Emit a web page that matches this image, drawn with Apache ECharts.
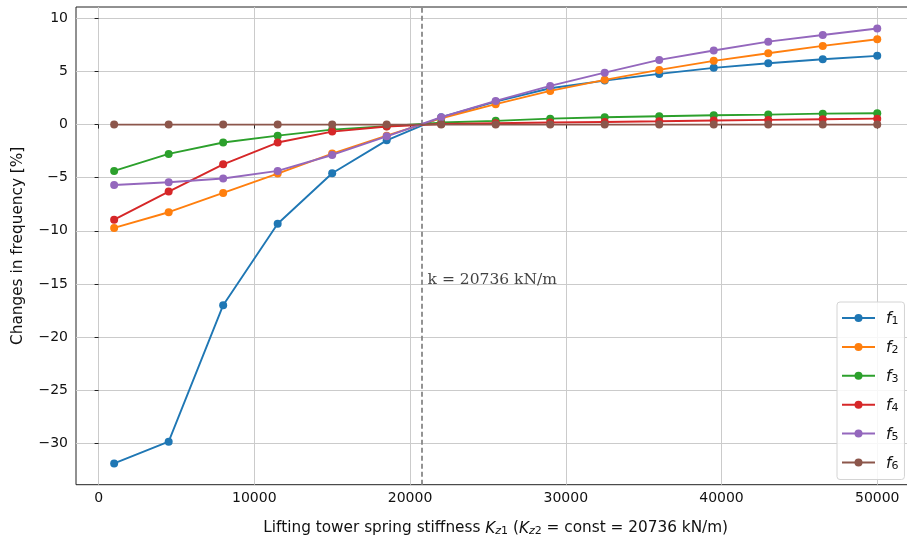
<!DOCTYPE html>
<html>
<head>
<meta charset="utf-8">
<script src="https://cdn.jsdelivr.net/npm/echarts@6/dist/echarts.min.js"></script>
<style>
html, body { margin: 0; padding: 0; background: #fff; }
#chart { width: 907px; height: 541px; }
</style>
</head>
<body>
<div id="chart"></div>
<script>
// stiffness K_z1 [kN/m]
var stiffness = [1000, 4500, 8000, 11500, 15000, 18500, 22000, 25500, 29000, 32500, 36000, 39500, 43000, 46500, 50000];

// changes in frequency [%]
var f1 = [-31.9, -29.85, -17.0, -9.34, -4.58, -1.48, 0.69, 2.16, 3.42, 4.14, 4.77, 5.34, 5.78, 6.15, 6.47];
var f2 = [-9.73, -8.25, -6.43, -4.61, -2.73, -1.04, 0.6, 1.92, 3.17, 4.21, 5.15, 6.0, 6.72, 7.41, 8.04];
var f3 = [-4.36, -2.76, -1.69, -1.04, -0.47, -0.16, 0.19, 0.35, 0.56, 0.69, 0.78, 0.88, 0.94, 1.03, 1.07];
var f4 = [-8.95, -6.31, -3.74, -1.69, -0.66, -0.18, 0.06, 0.13, 0.19, 0.25, 0.31, 0.38, 0.44, 0.5, 0.56];
var f5 = [-5.68, -5.43, -5.08, -4.36, -2.86, -1.1, 0.69, 2.23, 3.64, 4.89, 6.09, 6.97, 7.81, 8.44, 9.04];
var f6 = [0, 0, 0, 0, 0, 0, 0, 0, 0, 0, 0, 0, 0, 0, 0];

var seriesNames = ['f1', 'f2', 'f3', 'f4', 'f5', 'f6'];
var colors = ['#1f77b4', '#ff7f0e', '#2ca02c', '#d62728', '#9467bd', '#8c564b'];

var xTicks = [0, 10000, 20000, 30000, 40000, 50000];
var yTicks = [-30, -25, -20, -15, -10, -5, 0, 5, 10];

var kRef = 20736;
var kLabel = 'k = 20736 kN/m';

function pairs(ys) {
	return stiffness.map(function(x, i) { return [x, ys[i]]; });
}

function minus(v) {
	return v < 0 ? '\u2212' + Math.abs(v) : String(v);
}

var chart = echarts.init(document.getElementById('chart'));

var allData = [f1, f2, f3, f4, f5, f6];
var series = allData.map(function(d, i) {
	return {
		name: seriesNames[i],
		type: 'line',
		data: pairs(d),
		symbol: 'circle',
		symbolSize: 8,
		showSymbol: true,
		lineStyle: { width: 1.9, color: colors[i] },
		itemStyle: { color: colors[i], borderWidth: 0 },
		z: 3 + i
	};
});

// dashed reference line and its note
series.push({
	name: 'ref',
	type: 'scatter',
	data: [[21000, -15]],
	symbolSize: 0,
	silent: true,
	z: 2,
	label: {
		show: true,
		position: [0, 0],
		align: 'left',
		verticalAlign: 'bottom',
		offset: [2, 4],
		formatter: kLabel,
		fontFamily: 'DejaVu Serif',
		fontSize: 15.5,
		color: '#111'
	},
	markLine: {
		silent: true,
		symbol: 'none',
		label: { show: false },
		lineStyle: { color: '#888', type: [5, 3], width: 1.8 },
		data: [{ xAxis: kRef }]
	}
});

var textFont = 'DejaVu Sans';

var option = {
	animation: false,
	backgroundColor: '#fff',
	color: colors,
	grid: {
		left: 76, right: -8.4, top: 7, bottom: 56.3,
		outerBoundsMode: 'none',
		containLabel: false,
		show: true, borderColor: '#222', borderWidth: 1
	},
	legend: {
		data: seriesNames,
		orient: 'vertical',
		left: 837, top: 302,
		padding: [9, 6, 8, 4],
		itemWidth: 33, itemHeight: 10, itemGap: 12.9,
		backgroundColor: 'rgba(255,255,255,0.85)',
		borderColor: '#d4d4d4', borderWidth: 1, borderRadius: 3,
		formatter: function(name) {
			return '{f|f}{s|' + name.slice(1) + '}';
		},
		textStyle: {
			color: '#111',
			rich: {
				f: { fontFamily: textFont, fontStyle: 'italic', fontSize: 15.5, lineHeight: 18, verticalAlign: 'bottom', padding: [0, 0, 0, 6] },
				s: { fontFamily: textFont, fontSize: 11, padding: [7, 0, 0, 0], verticalAlign: 'bottom' }
			}
		}
	},
	xAxis: {
		type: 'value',
		min: -1450, max: 52450,
		name: 'Lifting tower spring stiffness {i|K}{si|z}{s|1} ({i|K}{si|z}{s|2} = const = 20736 kN/m)',
		nameLocation: 'middle',
		nameGap: 35,
		nameTextStyle: {
			color: '#111', fontFamily: textFont, fontSize: 15.3,
			rich: {
				i: { fontFamily: textFont, fontSize: 15.3, fontStyle: 'italic', verticalAlign: 'bottom', lineHeight: 17 },
				si: { fontFamily: textFont, fontSize: 11, fontStyle: 'italic', verticalAlign: 'bottom', padding: [5, 0, 0, 0] },
				s: { fontFamily: textFont, fontSize: 11, verticalAlign: 'bottom', padding: [5, 0, 0, 0] }
			}
		},
		axisLine: { show: false },
		axisTick: { show: true, length: 4, lineStyle: { color: '#222' }, customValues: xTicks },
		axisLabel: {
			color: '#111', fontFamily: textFont, fontSize: 14, margin: 7, customValues: xTicks,
			formatter: function(v) { return String(v); }
		},
		splitLine: { show: true, lineStyle: { color: '#cbcbcb', width: 1 } }
	},
	yAxis: {
		type: 'value',
		min: -33.9, max: 11.07,
		name: 'Changes in frequency [%]',
		nameLocation: 'middle',
		nameGap: 50,
		nameTextStyle: { color: '#111', fontFamily: textFont, fontSize: 15.3 },
		axisLine: { show: false },
		axisTick: { show: true, length: 4, lineStyle: { color: '#222' }, customValues: yTicks },
		axisLabel: { color: '#111', fontFamily: textFont, fontSize: 14, margin: 8, formatter: minus, customValues: yTicks },
		splitLine: { show: true, lineStyle: { color: '#cbcbcb', width: 1 } }
	},
	series: series
};

chart.setOption(option);
window.onresize = chart.resize;
</script>
</body>
</html>
